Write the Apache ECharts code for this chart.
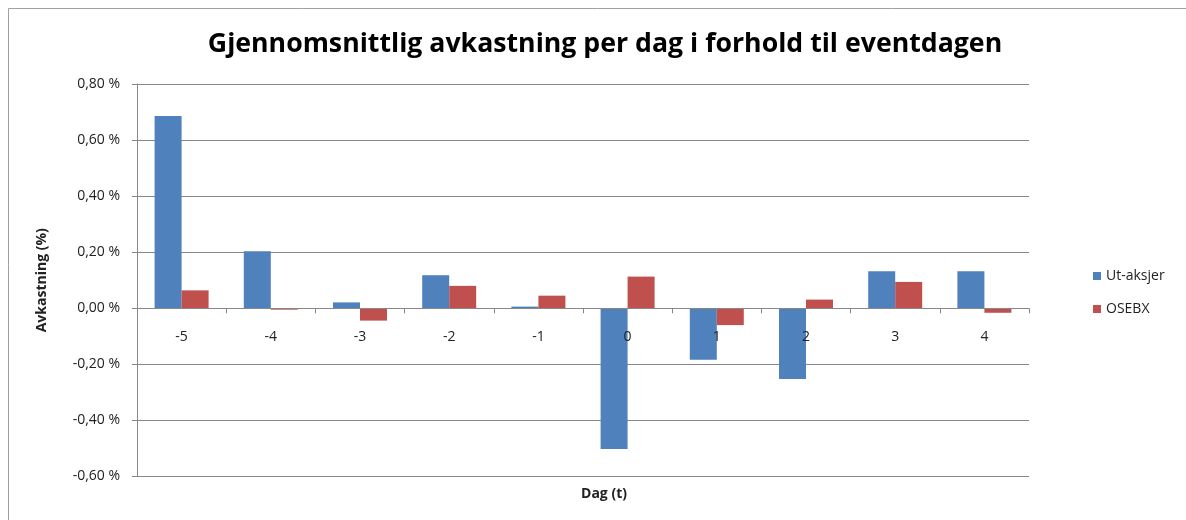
<!DOCTYPE html>
<html>
<head>
<meta charset="utf-8">
<script src="https://cdn.jsdelivr.net/npm/echarts@6/dist/echarts.min.js"></script>
<style>
  html, body { margin: 0; padding: 0; background: #fff; }
  #chart { width: 1186px; height: 520px; }
</style>
</head>
<body>
<div id="chart"></div>
<script>
// Days relative to the event day
const days = ['-5', '-4', '-3', '-2', '-1', '0', '1', '2', '3', '4'];
// Average daily return (%) per day
const utAksjer = [0.686, 0.203, 0.021, 0.118, 0.006, -0.502, -0.184, -0.252, 0.132, 0.132];
const osebx = [0.064, -0.005, -0.044, 0.080, 0.045, 0.113, -0.060, 0.031, 0.094, -0.016];
const seriesNames = ['Ut-aksjer', 'OSEBX'];
// Value axis range
const Y_MIN = -0.6;
const Y_MAX = 0.8;
const Y_STEP = 0.2;

const FONT = '"Open Sans", "Noto Sans", sans-serif';
const GRID_COLOR = '#878787';
const TEXT_COLOR = '#222';

const GRID = { left: 137, right: 157, top: 84, bottom: 43.5 };
const plotHeight = 520 - GRID.top - GRID.bottom;
// Shift the category axis up from the bottom edge to the zero line
const zeroOffset = -plotHeight * (0 - Y_MIN) / (Y_MAX - Y_MIN);

const chart = echarts.init(document.getElementById('chart'), null, { renderer: 'canvas' });

function pct(v) {
  const r = Math.round(v * 100) / 100;
  return (r === 0 ? 0 : r).toFixed(2).replace('.', ',') + ' %';
}

chart.setOption({
  animation: false,
  backgroundColor: '#ffffff',
  textStyle: { fontFamily: FONT },
  title: [
    {
      text: 'Gjennomsnittlig avkastning per dag i forhold til eventdagen',
      left: 600,
      textAlign: 'center',
      top: 26,
      textStyle: { fontFamily: FONT, fontSize: 26.7, fontWeight: 'bold', color: '#000' }
    },
    {
      text: 'Dag (t)',
      left: 599,
      textAlign: 'center',
      top: 482,
      textStyle: { fontFamily: FONT, fontSize: 14, fontWeight: 'bold', color: TEXT_COLOR }
    }
  ],
  graphic: [
    {
      type: 'rect',
      shape: { x: 8.5, y: 8.5, width: 1200, height: 540 },
      style: { fill: null, stroke: '#a0a0a0', lineWidth: 1 },
      silent: true
    }
  ],
  legend: {
    orient: 'vertical',
    left: 1088,
    top: 264,
    itemWidth: 8,
    itemHeight: 8,
    itemGap: 19,
    icon: 'rect',
    textStyle: { fontFamily: FONT, fontSize: 14, color: TEXT_COLOR },
    data: seriesNames
  },
  grid: { left: GRID.left, right: GRID.right, top: GRID.top, bottom: GRID.bottom, containLabel: false },
  xAxis: {
    type: 'category',
    data: days,
    position: 'bottom',
    offset: zeroOffset,
    z: 5,
    axisLine: { onZero: false, lineStyle: { color: GRID_COLOR, width: 1 } },
    axisTick: { show: true, length: 5, alignWithLabel: false, lineStyle: { color: GRID_COLOR } },
    axisLabel: { margin: 22, fontSize: 14, color: TEXT_COLOR, fontFamily: FONT },
    splitLine: { show: false }
  },
  yAxis: {
    type: 'value',
    min: Y_MIN,
    max: Y_MAX,
    interval: Y_STEP,
    name: 'Avkastning (%)',
    nameLocation: 'middle',
    nameGap: 88,
    nameTextStyle: { fontFamily: FONT, fontSize: 14, fontWeight: 'bold', color: TEXT_COLOR },
    axisLine: { show: true, lineStyle: { color: GRID_COLOR, width: 1 } },
    axisTick: { show: true, length: 5, lineStyle: { color: GRID_COLOR } },
    axisLabel: { margin: 17, fontSize: 14, color: TEXT_COLOR, fontFamily: FONT, formatter: pct },
    splitLine: { show: true, lineStyle: { color: GRID_COLOR, width: 1 } }
  },
  series: [
    {
      name: seriesNames[0],
      type: 'bar',
      data: utAksjer,
      barWidth: 27,
      barGap: '0%',
      itemStyle: { color: '#4f81bd' }
    },
    {
      name: seriesNames[1],
      type: 'bar',
      data: osebx,
      barWidth: 27,
      barGap: '0%',
      itemStyle: { color: '#c0504d' }
    }
  ]
});
</script>
</body>
</html>
